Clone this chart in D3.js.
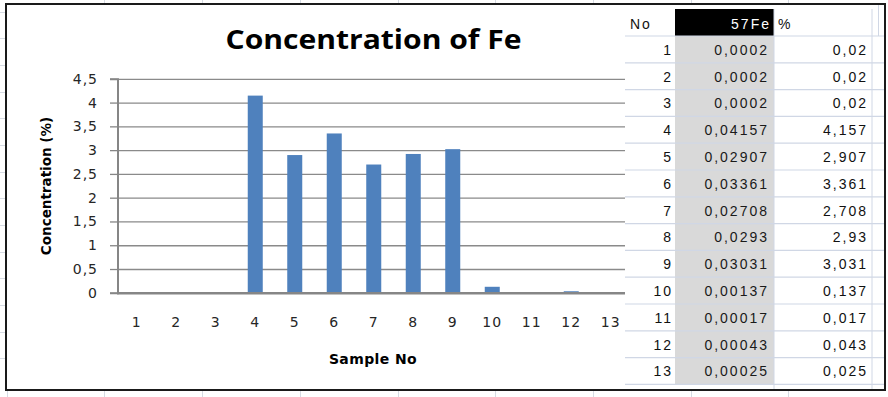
<!DOCTYPE html>
<html><head><meta charset="utf-8">
<script src="https://cdn.jsdelivr.net/npm/d3@7/dist/d3.min.js"></script>
<style>html,body{margin:0;padding:0;background:#fff;overflow:hidden}</style>
</head><body><svg id="c" width="888" height="397"></svg>
<script>
// ---- data ----
const samples = ["1","2","3","4","5","6","7","8","9","10","11","12","13"];
const fe57 = [0.0002,0.0002,0.0002,0.04157,0.02907,0.03361,0.02708,0.0293,0.03031,0.00137,0.00017,0.00043,0.00025];
const percent = [0.02,0.02,0.02,4.157,2.907,3.361,2.708,2.93,3.031,0.137,0.017,0.043,0.025];
const yTicks = [0,0.5,1,1.5,2,2.5,3,3.5,4,4.5];
const chartTitle = "Concentration of Fe";
const xTitle = "Sample No";
const yTitle = "Concentration (%)";
const tableHeaders = ["No","57Fe","%"];

const comma = v => String(v).replace(".", ",");
const svg = d3.select("#c");

// ---- spreadsheet background ----
const bg = svg.append("g").attr("stroke","#d6dbe3").attr("stroke-width",1);
[104,202,300,398,495,593,691,788].forEach(xv=>{
  bg.append("line").attr("x1",xv+0.5).attr("x2",xv+0.5).attr("y1",0).attr("y2",4);
  bg.append("line").attr("x1",xv+0.5).attr("x2",xv+0.5).attr("y1",391).attr("y2",397);
});
[12,38,65,92,118,145,172,198,225,252,278,305,332,358].forEach(yv=>{
  bg.append("line").attr("x1",0).attr("x2",5).attr("y1",yv+0.5).attr("y2",yv+0.5);
});
bg.append("line").attr("x1",7.5).attr("x2",7.5).attr("y1",391).attr("y2",397);

// ---- chart ----
const plot = {x0:117, y0:79.3, y1:293.3};
const step = 39.5;
const x = d3.scaleBand().domain(samples).range([plot.x0, plot.x0 + step*samples.length])
  .paddingInner(0.62).paddingOuter(0.31);
const y = d3.scaleLinear().domain([0,4.5]).range([plot.y1, plot.y0]);
const x1 = plot.x0 + step*samples.length;

// title
svg.append("text").attr("x",373.5).attr("y",49).attr("text-anchor","middle")
  .attr("font-family","'Open Sans', Lato, sans-serif").attr("font-weight","bold")
  .attr("font-size",26).attr("fill","#000")
  .attr("textLength",296).attr("lengthAdjust","spacingAndGlyphs").text(chartTitle);

// gridlines
svg.append("g").selectAll("line").data(yTicks.filter(d=>d>0)).join("line")
  .attr("x1",plot.x0+1).attr("x2",x1).attr("y1",d=>y(d)).attr("y2",d=>y(d))
  .attr("stroke","#8a8a8a").attr("stroke-width",1.3);

// bars
svg.append("g").selectAll("rect").data(percent).join("rect")
  .attr("x",(d,i)=>x(samples[i])).attr("width",x.bandwidth())
  .attr("y",d=>y(d)).attr("height",d=>y(0)-y(d)).attr("fill","#4f81bd");

// x axis
const xAxis = svg.append("g").attr("transform",`translate(0,${plot.y1})`)
  .call(d3.axisBottom(x).tickSize(0).tickPadding(24).tickSizeOuter(0).offset(0));
xAxis.select(".domain").attr("stroke","#868686").attr("stroke-width",2.4);
xAxis.selectAll("text").attr("font-family","'DejaVu Sans', Verdana, sans-serif")
  .attr("font-size",14).attr("letter-spacing","1px").attr("fill","#262626");

// y axis
const yAxis = svg.append("g").attr("transform",`translate(${plot.x0+1},0)`)
  .call(d3.axisLeft(y).tickValues(yTicks).tickSize(8).tickPadding(12).tickFormat(comma).offset(0));
yAxis.select(".domain").attr("stroke","#868686").attr("stroke-width",2);
yAxis.selectAll(".tick line").attr("stroke","#868686").attr("stroke-width",1.3);
yAxis.selectAll("text").attr("font-family","'DejaVu Sans', Verdana, sans-serif")
  .attr("font-size",14).attr("letter-spacing","1px").attr("fill","#262626");

// axis titles
svg.append("text").attr("x",373).attr("y",364).attr("text-anchor","middle")
  .attr("font-family","'DejaVu Sans', Verdana, sans-serif").attr("font-weight","bold")
  .attr("font-size",14).attr("letter-spacing","0.4px").attr("fill","#000").text(xTitle);
svg.append("text").attr("transform","translate(51,186) rotate(-90)").attr("text-anchor","middle")
  .attr("font-family","'DejaVu Sans', Verdana, sans-serif").attr("font-weight","bold")
  .attr("font-size",13.5).attr("fill","#000").text(yTitle);

// ---- table overlay ----
const T = {xNo:625, xGray:675, xPct:774, xEnd:872, xFrame:884, yHead:9, yTop:36, rowH:26.8};
const tbl = svg.append("g");
tbl.append("rect").attr("x",T.xNo).attr("y",5).attr("width",T.xFrame-T.xNo).attr("height",384).attr("fill","#fff");
tbl.append("rect").attr("x",T.xGray).attr("y",T.yTop).attr("width",T.xPct-T.xGray)
  .attr("height",T.rowH*samples.length).attr("fill","#d9d9d9");
tbl.append("rect").attr("x",T.xGray).attr("y",T.yHead).attr("width",T.xPct-T.xGray)
  .attr("height",T.yTop-T.yHead).attr("fill","#000");
// row lines
tbl.append("g").selectAll("line").data(d3.range(samples.length+1)).join("line")
  .attr("x1",T.xNo).attr("x2",T.xFrame).attr("y1",i=>T.yTop+i*T.rowH).attr("y2",i=>T.yTop+i*T.rowH)
  .attr("stroke","#d0d7e5").attr("stroke-width",1.2);
[T.xPct, T.xEnd].forEach(xv=>tbl.append("line").attr("x1",xv).attr("x2",xv)
  .attr("y1",T.yHead).attr("y2",389).attr("stroke","#d0d7e5").attr("stroke-width",1));
tbl.append("line").attr("x1",878.5).attr("x2",878.5).attr("y1",5).attr("y2",T.yTop)
  .attr("stroke","#d0d7e5").attr("stroke-width",1);

const tf = "'Liberation Sans', Arial, sans-serif";
const cell = (xv,yv,txt,anchor,fill) => tbl.append("text").attr("x",xv).attr("y",yv)
  .attr("text-anchor",anchor).attr("font-family",tf).attr("font-size",14)
  .attr("letter-spacing","2px").attr("fill",fill||"#111").text(txt);
cell(630,29,tableHeaders[0],"start");
cell(771,29,tableHeaders[1],"end","#fff");
cell(778,29,tableHeaders[2],"start");
samples.forEach((s,i)=>{
  const yb = T.yTop + (i+1)*T.rowH - 8;
  cell(673,yb,s,"end");
  cell(769,yb,comma(fe57[i]),"end","#1a1a1a");
  cell(868,yb,comma(percent[i]),"end");
});

// ---- frame ----
svg.append("rect").attr("x",6).attr("y",4).attr("width",879).attr("height",386)
  .attr("fill","none").attr("stroke","#1a1a1a").attr("stroke-width",2);
</script></body></html>
